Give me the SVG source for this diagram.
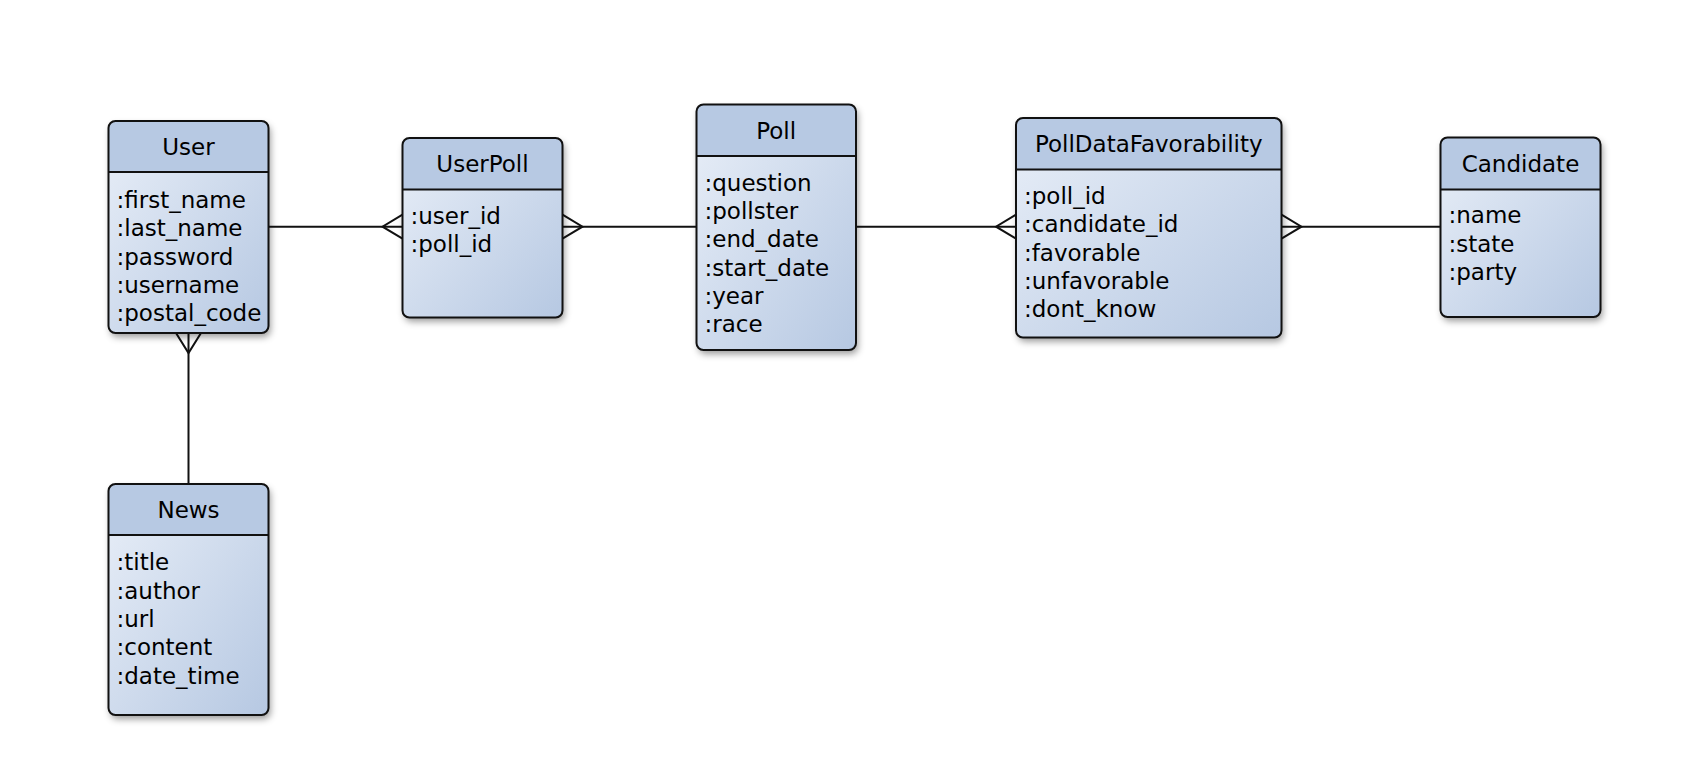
<svg xmlns="http://www.w3.org/2000/svg" width="1682" height="776" viewBox="0 0 1682 776">
<defs>
<linearGradient id="bodyGrad" x1="0" y1="0" x2="1" y2="1">
<stop offset="0" stop-color="#e9eff8"/>
<stop offset="1" stop-color="#b6c8e2"/>
</linearGradient>
<filter id="shadow" x="-20%" y="-20%" width="140%" height="140%">
<feDropShadow dx="2" dy="4" stdDeviation="3.5" flood-color="#000" flood-opacity="0.4"/>
</filter>
</defs>
<style>
.body{fill:url(#bodyGrad);}
.head{fill:#b7c9e3;}
.frame{fill:none;stroke:#111;stroke-width:2;}
.div{stroke:#111;stroke-width:2;}
.title{font-family:"DejaVu Sans",sans-serif;font-size:23px;fill:#000;text-anchor:middle;}
.field{font-family:"DejaVu Sans",sans-serif;font-size:23px;fill:#000;}
.conn line,.conn polyline{stroke:#111;stroke-width:2;fill:none;}
</style>
<rect width="1682" height="776" fill="#fff"/>

<g id="connectors" class="conn">
<line x1="268.5" y1="226.7" x2="402.5" y2="226.7"/>
<polyline points="402.5,214.7 382.5,226.7 402.5,238.7"/>
<line x1="562.5" y1="226.7" x2="696.5" y2="226.7"/>
<polyline points="562.5,214.7 582.5,226.7 562.5,238.7"/>
<line x1="856" y1="226.7" x2="1016" y2="226.7"/>
<polyline points="1016,214.7 996,226.7 1016,238.7"/>
<line x1="1281.5" y1="226.7" x2="1440.5" y2="226.7"/>
<polyline points="1281.5,214.7 1301.5,226.7 1281.5,238.7"/>
<line x1="188.5" y1="333" x2="188.5" y2="484"/>
<polyline points="176,333 188.5,353 201,333"/>
</g>

<g id="User">
<g filter="url(#shadow)"><rect x="108.5" y="121" width="160" height="212" rx="7" class="body"/></g>
<path d="M108.5,172 V128 a7,7 0 0 1 7,-7 H261.5 a7,7 0 0 1 7,7 V172 Z" class="head"/>
<rect x="108.5" y="121" width="160" height="212" rx="7" class="frame"/>
<line x1="108.5" y1="172" x2="268.5" y2="172" class="div"/>
<text x="188.5" y="155" class="title">User</text>
<text x="116.5" y="208" class="field">:first_name</text>
<text x="116.5" y="236.3" class="field">:last_name</text>
<text x="116.5" y="264.7" class="field">:password</text>
<text x="116.5" y="293" class="field">:username</text>
<text x="116.5" y="321.3" class="field">:postal_code</text>
</g>

<g id="UserPoll">
<g filter="url(#shadow)"><rect x="402.5" y="138" width="160" height="179.5" rx="7" class="body"/></g>
<path d="M402.5,189.5 V145 a7,7 0 0 1 7,-7 H555.5 a7,7 0 0 1 7,7 V189.5 Z" class="head"/>
<rect x="402.5" y="138" width="160" height="179.5" rx="7" class="frame"/>
<line x1="402.5" y1="189.5" x2="562.5" y2="189.5" class="div"/>
<text x="482.5" y="172" class="title">UserPoll</text>
<text x="410.5" y="223.5" class="field">:user_id</text>
<text x="410.5" y="251.8" class="field">:poll_id</text>
</g>

<g id="Poll">
<g filter="url(#shadow)"><rect x="696.5" y="104.5" width="159.5" height="245.5" rx="7" class="body"/></g>
<path d="M696.5,156 V111.5 a7,7 0 0 1 7,-7 H849 a7,7 0 0 1 7,7 V156 Z" class="head"/>
<rect x="696.5" y="104.5" width="159.5" height="245.5" rx="7" class="frame"/>
<line x1="696.5" y1="156" x2="856" y2="156" class="div"/>
<text x="776.2" y="138.5" class="title">Poll</text>
<text x="704.5" y="190.5" class="field">:question</text>
<text x="704.5" y="218.8" class="field">:pollster</text>
<text x="704.5" y="247.2" class="field">:end_date</text>
<text x="704.5" y="275.5" class="field">:start_date</text>
<text x="704.5" y="303.8" class="field">:year</text>
<text x="704.5" y="332.2" class="field">:race</text>
</g>

<g id="PollDataFavorability">
<g filter="url(#shadow)"><rect x="1016" y="118" width="265.5" height="219.5" rx="7" class="body"/></g>
<path d="M1016,169.5 V125 a7,7 0 0 1 7,-7 H1274.5 a7,7 0 0 1 7,7 V169.5 Z" class="head"/>
<rect x="1016" y="118" width="265.5" height="219.5" rx="7" class="frame"/>
<line x1="1016" y1="169.5" x2="1281.5" y2="169.5" class="div"/>
<text x="1148.8" y="152" class="title">PollDataFavorability</text>
<text x="1024" y="203.8" class="field">:poll_id</text>
<text x="1024" y="232.1" class="field">:candidate_id</text>
<text x="1024" y="260.5" class="field">:favorable</text>
<text x="1024" y="288.8" class="field">:unfavorable</text>
<text x="1024" y="317.1" class="field">:dont_know</text>
</g>

<g id="Candidate">
<g filter="url(#shadow)"><rect x="1440.5" y="137.5" width="160" height="179.5" rx="7" class="body"/></g>
<path d="M1440.5,189.5 V144.5 a7,7 0 0 1 7,-7 H1593.5 a7,7 0 0 1 7,7 V189.5 Z" class="head"/>
<rect x="1440.5" y="137.5" width="160" height="179.5" rx="7" class="frame"/>
<line x1="1440.5" y1="189.5" x2="1600.5" y2="189.5" class="div"/>
<text x="1520.5" y="171.8" class="title">Candidate</text>
<text x="1448.5" y="223.2" class="field">:name</text>
<text x="1448.5" y="251.5" class="field">:state</text>
<text x="1448.5" y="279.8" class="field">:party</text>
</g>

<g id="News">
<g filter="url(#shadow)"><rect x="108.5" y="484" width="160" height="231" rx="7" class="body"/></g>
<path d="M108.5,535 V491 a7,7 0 0 1 7,-7 H261.5 a7,7 0 0 1 7,7 V535 Z" class="head"/>
<rect x="108.5" y="484" width="160" height="231" rx="7" class="frame"/>
<line x1="108.5" y1="535" x2="268.5" y2="535" class="div"/>
<text x="188.5" y="517.5" class="title">News</text>
<text x="116.5" y="570.3" class="field">:title</text>
<text x="116.5" y="598.6" class="field">:author</text>
<text x="116.5" y="627" class="field">:url</text>
<text x="116.5" y="655.3" class="field">:content</text>
<text x="116.5" y="683.6" class="field">:date_time</text>
</g>
</svg>
